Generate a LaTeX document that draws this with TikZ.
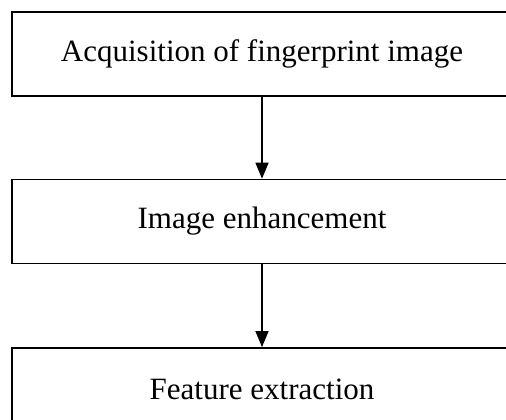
\documentclass[tikz,border=0pt]{standalone}
\usepackage{fontspec}
\setmainfont{Liberation Serif}
\usepackage{tikz}
\usetikzlibrary{positioning}
\usetikzlibrary{arrows.meta}

\begin{document}
\begin{tikzpicture}[x=1pt,y=-1pt,
    stage/.style={draw,line width=1.4pt,minimum width=500pt,minimum height=84pt,
      inner sep=0pt,font=\fontsize{31}{36}\selectfont},
    flow/.style={line width=1.4pt,-{Triangle[length=16pt,width=13pt]}}]
    \useasboundingbox (0,0) rectangle (506,420);
    \clip (0,0) rectangle (506,420);
    \node[stage] (Acq) at (262,54) {Acquisition of fingerprint image};
    \node[stage,below=82pt of Acq] (Enh) {Image enhancement};
    \node[stage,below=83pt of Enh] (Feat) {Feature extraction};
    \foreach \a/\b in {Acq/Enh,Enh/Feat} {
      \draw[flow] (\a.south) -- (\b.north);
    }
  \end{tikzpicture}
\end{document}
